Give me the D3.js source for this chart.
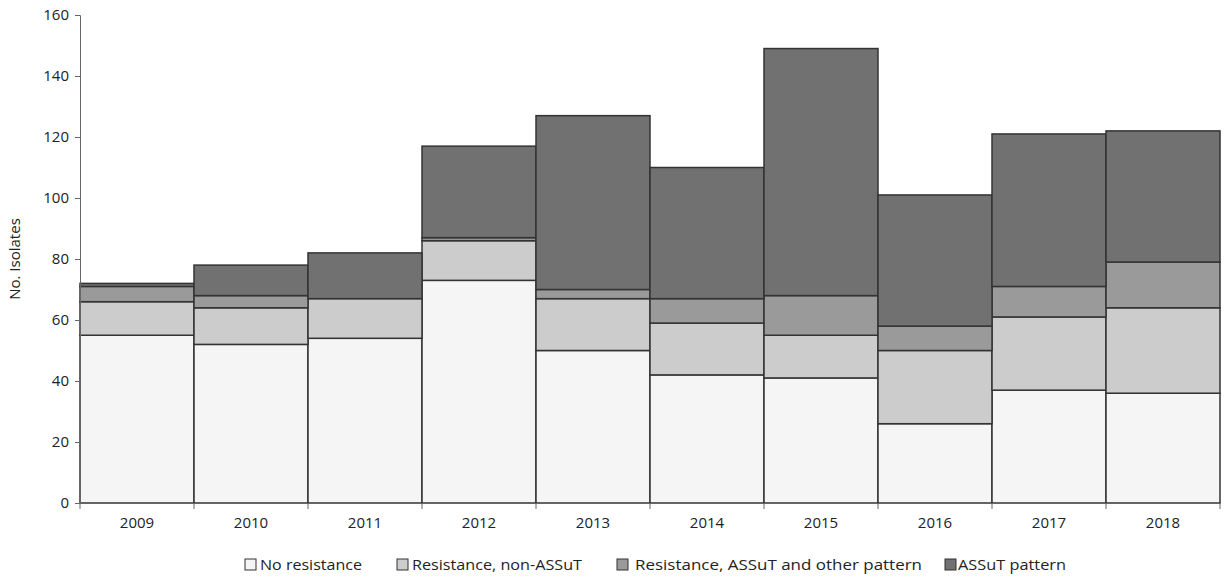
<!DOCTYPE html>
<html><head><meta charset="utf-8">
<script src="https://cdn.jsdelivr.net/npm/d3@7"></script>
<style>body{margin:0;background:#fff;font-family:"Open Sans",Arial,sans-serif;}</style>
</head><body><svg id="chart" width="1224" height="578"></svg>
<script>
const years = ['2009','2010','2011','2012','2013','2014','2015','2016','2017','2018'];
const seriesNames = ['No resistance','Resistance, non-ASSuT','Resistance, ASSuT and other pattern','ASSuT pattern'];
const noResistance = [55,52,54,73,50,42,41,26,37,36];
const nonASSuT = [11,12,13,13,17,17,14,24,24,28];
const assutOther = [5,4,0,1,3,8,13,8,10,15];
const assutPattern = [1,10,15,30,57,43,81,43,50,43];
const yTicks = [0,20,40,60,80,100,120,140,160];
const colors = ['#f4f5f4','#cdcccc','#9a9a9a','#717171'];
const font = '"Open Sans",Arial,sans-serif';

const table = years.map((y,i)=>({year:y, s0:noResistance[i], s1:nonASSuT[i], s2:assutOther[i], s3:assutPattern[i]}));
const stack = d3.stack().keys(['s0','s1','s2','s3'])(table);

const svg = d3.select('#chart');
const m = {left:80,right:1220,top:15,bottom:503};
const x = d3.scaleBand().domain(years).range([m.left,m.right]).padding(0);
const y = d3.scaleLinear().domain([0,160]).range([m.bottom,m.top]);

stack.forEach((layer,k)=>{
  svg.append('g').selectAll('rect').data(layer).join('rect')
    .attr('x',d=>x(d.data.year)).attr('width',x.bandwidth())
    .attr('y',d=>y(d[1])).attr('height',d=>y(d[0])-y(d[1]))
    .attr('fill',colors[k]).attr('stroke','#333').attr('stroke-width',1.5);
});

const ya = svg.append('g').attr('transform',`translate(${m.left},0)`)
  .call(d3.axisLeft(y).tickValues(yTicks).tickSize(5).tickPadding(6));
const xa = svg.append('g').attr('transform',`translate(0,${m.bottom})`)
  .call(d3.axisBottom(x).tickSize(5).tickPadding(9).tickSizeOuter(0));
svg.append('g').selectAll('line').data(years.concat(['end'])).join('line')
  .attr('x1',(d,i)=>m.left+i*x.bandwidth()).attr('x2',(d,i)=>m.left+i*x.bandwidth())
  .attr('y1',m.bottom).attr('y2',m.bottom+6).attr('stroke','#666');
xa.selectAll('.tick line').remove();
[ya,xa].forEach(a=>{a.select('.domain').attr('stroke','#666');a.selectAll('line').attr('stroke','#666');
  a.selectAll('text').attr('font-size',15).attr('fill','#222').style('font-family',font);});

svg.append('text').attr('transform','translate(20,259) rotate(-90)').attr('text-anchor','middle')
  .attr('font-size',15).attr('fill','#222').style('font-family',font).text('No. Isolates');

const legX = [245,397,617,945];
const legT = [260,412,635,958];
const legW = [102,170,287,108];
const lg = svg.append('g');
seriesNames.forEach((n,i)=>{
  lg.append('rect').attr('x',legX[i]).attr('y',559).attr('width',11).attr('height',11)
    .attr('fill',colors[i]).attr('stroke','#333');
  lg.append('text').attr('x',legT[i]).attr('y',570).attr('font-size',15).attr('fill','#222')
    .attr('textLength',legW[i]).attr('lengthAdjust','spacingAndGlyphs')
    .style('font-family',font).text(n);
});
</script></body></html>
